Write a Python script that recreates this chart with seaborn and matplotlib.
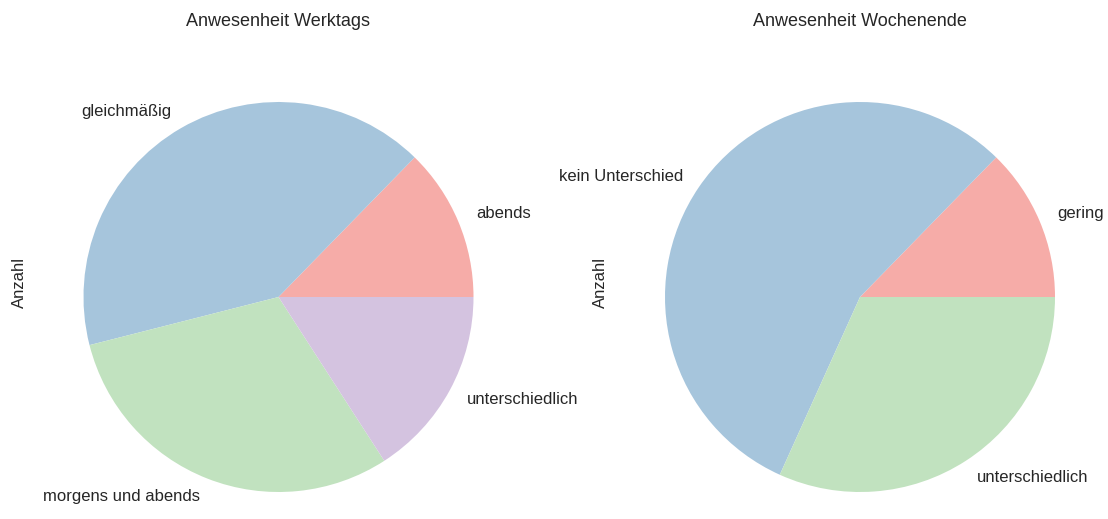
import matplotlib
matplotlib.use("Agg")
import matplotlib.pyplot as plt
import seaborn as sns

# Survey answers: presence on weekdays and at weekends
werktags_labels = ["abends", "gleichmäßig", "morgens und abends", "unterschiedlich"]
werktags_anzahl = [8, 26, 19, 10]

wochenende_labels = ["gering", "kein Unterschied", "unterschiedlich"]
wochenende_anzahl = [8, 35, 20]

titles = ["Anwesenheit Werktags", "Anwesenheit Wochenende"]

sns.set_theme(style="white")
plt.rcParams["font.family"] = ["Liberation Sans", "DejaVu Sans"]

palette = ["#f6aca8", "#a6c5dc", "#c1e2bf", "#d4c3e0"]

W, H = 1108, 519
fig = plt.figure(figsize=(W / 100, H / 100), dpi=100)

R = 195.0          # pie radius in pixels
half_w = 251.0     # half width of each axes in pixels
ax_top = 40.0      # axes top edge (pixels from top)
ax_h = 486.0       # axes height in pixels
cy = 297.0         # pie centre (pixels from top)
centres_x = [278.5, 860.0]

data = [(werktags_labels, werktags_anzahl), (wochenende_labels, wochenende_anzahl)]

for cx, (labels, values), title in zip(centres_x, data, titles):
    left = (cx - half_w) / W
    bottom = (H - ax_top - ax_h) / H
    ax = fig.add_axes([left, bottom, 2 * half_w / W, ax_h / H])
    ax.pie(values, labels=labels, colors=palette[:len(values)],
           startangle=0, counterclock=True, labeldistance=1.1,
           wedgeprops={"linewidth": 0, "edgecolor": "none"},
           textprops={"fontsize": 12, "color": "#262626"})
    ax.set_aspect("auto")
    ax.set_xlim(-half_w / R, half_w / R)
    ax.set_ylim(-(ax_h - (cy - ax_top)) / R, (cy - ax_top) / R)
    ax.set_title(title, fontsize=13, color="#262626", pad=10)
    ax.set_ylabel("Anzahl", fontsize=12, color="#262626", labelpad=0.5)
    for s in ax.spines.values():
        s.set_visible(False)

fig.savefig("out.png", dpi=100)
